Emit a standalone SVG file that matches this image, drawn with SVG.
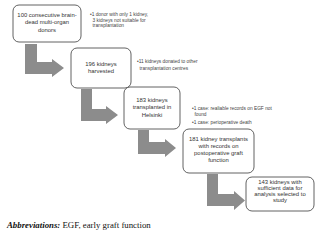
<svg xmlns="http://www.w3.org/2000/svg" width="322" height="241" viewBox="0 0 322 241">
<style>
.box{fill:#fff;stroke:#3a3a3a;stroke-width:0.8}
.bt{font-family:"Liberation Sans",Arial,sans-serif;font-size:5.9px;fill:#333;text-anchor:middle}
.nt{font-family:"Liberation Sans",Arial,sans-serif;font-size:4.8px;fill:#444}
.arr{fill:#8c8c8c}
.cap{font-family:"Liberation Serif","Times New Roman",serif;font-size:8.8px;fill:#111}
</style>
<rect width="322" height="241" fill="#fff"/>
<g id="connectors">
<path class="arr" d="M25,44 H37 V62 H52 V59 L64,68 L52,77 V74 H25 Z"/>
<path class="arr" d="M81,89 H92 V109 H106 V106 L118,115 L106,124 V121 H81 Z"/>
<path class="arr" d="M138,130 H149 V142 H165 V139 L176,148 L165,157 V154 H138 Z"/>
<path class="arr" d="M207,174 H218 V194 H234 V191 L245,200.5 L234,210 V206 H207 Z"/>
</g>
<g id="n1">
<rect class="box" x="13" y="5" width="68" height="37" rx="6"/>
<text class="bt" x="47" y="16.5">100 consecutive brain-</text>
<text class="bt" x="47" y="24">dead multi-organ</text>
<text class="bt" x="47" y="31.5">donors</text>
</g>
<g id="note1">
<text class="nt" x="90" y="16">•1 donor with only 1 kidney,</text>
<text class="nt" x="92.5" y="21.5">3 kidneys not suitable for</text>
<text class="nt" x="92.5" y="27">transplantation</text>
</g>
<g id="n2">
<rect class="box" x="71" y="48" width="60" height="40" rx="6"/>
<text class="bt" x="101" y="66">196 kidneys</text>
<text class="bt" x="101" y="73">harvested</text>
</g>
<g id="note2">
<text class="nt" x="137" y="63">•11 kidneys donated to other</text>
<text class="nt" x="139.5" y="69.5">transplantation centres</text>
</g>
<g id="n3">
<rect class="box" x="124" y="87" width="56" height="42" rx="6"/>
<text class="bt" x="152" y="101.5">183 kidneys</text>
<text class="bt" x="152" y="109">transplanted in</text>
<text class="bt" x="152" y="116.5">Helsinki</text>
</g>
<g id="note3">
<text class="nt" x="192" y="110">•1 case: realiable records on EGF not</text>
<text class="nt" x="194.5" y="116">found</text>
<text class="nt" x="192" y="123.5">•1 case: perioperative death</text>
</g>
<g id="n4">
<rect class="box" x="183" y="129" width="71" height="44" rx="6"/>
<text class="bt" x="218.5" y="141">181 kidney transplants</text>
<text class="bt" x="218.5" y="148">with records on</text>
<text class="bt" x="218.5" y="155">postoperative graft</text>
<text class="bt" x="218.5" y="162">function</text>
</g>
<g id="n5">
<rect class="box" x="246" y="177" width="68" height="34" rx="6"/>
<text class="bt" x="280" y="183.5">143 kidneys with</text>
<text class="bt" x="280" y="189.5">sufficient data for</text>
<text class="bt" x="280" y="195.5">analysis selected to</text>
<text class="bt" x="280" y="201.5">study</text>
</g>
<text class="cap" x="7" y="228"><tspan font-weight="bold" font-style="italic">Abbreviations:</tspan> EGF, early graft function</text>
</svg>
